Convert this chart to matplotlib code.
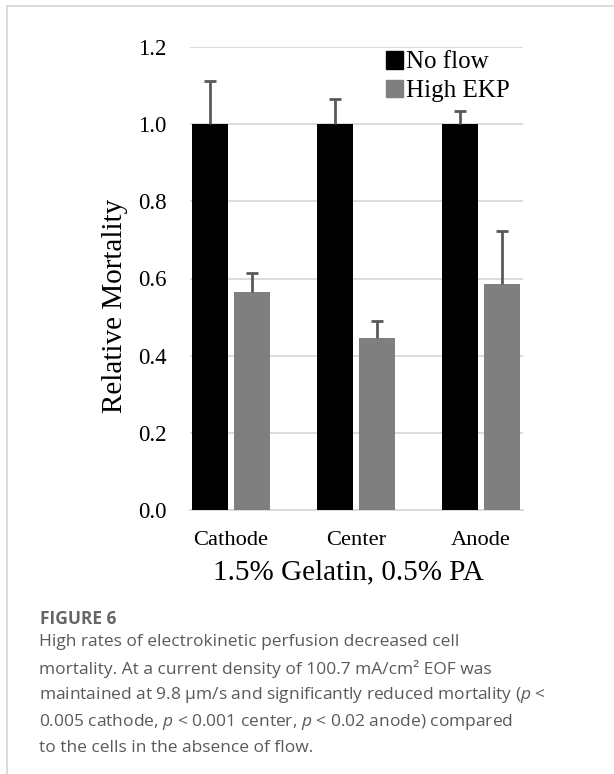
import numpy as np
import matplotlib
matplotlib.use("Agg")
import matplotlib.pyplot as plt
from matplotlib.lines import Line2D
from matplotlib.patches import Patch

categories = ["Cathode", "Center", "Anode"]
series_names = ["No flow", "High EKP"]
no_flow = [1.0, 1.0, 1.0]
no_flow_err = [0.112, 0.065, 0.034]
high_ekp = [0.566, 0.445, 0.585]
high_ekp_err = [0.048, 0.045, 0.137]
y_ticks = [0.0, 0.2, 0.4, 0.6, 0.8, 1.0, 1.2]
x_title = "1.5% Gelatin, 0.5% PA"
y_title = "Relative Mortality"
fig_label = "FIGURE 6"
caption_lines = [
    "High rates of electrokinetic perfusion decreased cell",
    "mortality. At a current density of 100.7 mA/cm\u00b2 EOF was",
    "maintained at 9.8 \u00b5m/s and significantly reduced mortality ($p$ <",
    "0.005 cathode, $p$ < 0.001 center, $p$ < 0.02 anode) compared",
    "to the cells in the absence of flow.",
]

plt.rcParams["mathtext.fontset"] = "custom"
plt.rcParams["mathtext.it"] = "Open Sans:italic"
plt.rcParams["mathtext.rm"] = "Open Sans"

W, H = 614, 774
fig = plt.figure(figsize=(W / 100, H / 100), dpi=100)
fig.patch.set_facecolor("white")

# outer border (top + left, open to right/bottom)
fig.add_artist(Line2D([7 / W, 1.0], [1 - 6 / H, 1 - 6 / H], color="#d4d4d4", lw=1.2))
fig.add_artist(Line2D([7 / W, 7 / W], [1 - 6 / H, 0.0], color="#d4d4d4", lw=1.2))

ax = fig.add_axes([190 / W, 1 - 510 / H, (523 - 190) / W, (510 - 47) / H])
x = np.arange(len(categories))
off = 0.168
bw = 0.288
ax.bar(x - off, no_flow, bw, color="#000000", zorder=3)
ax.bar(x + off, high_ekp, bw, color="#7f7f7f", zorder=3)

ekw = dict(fmt="none", ecolor="#595959", elinewidth=2.0, capsize=4.5, capthick=2.0, zorder=4)
for xs, ys, es in [(x - off, no_flow, no_flow_err), (x + off, high_ekp, high_ekp_err)]:
    eb = ax.errorbar(xs, ys, yerr=[[0] * len(es), es], **ekw)
    eb[1][0].set_visible(False)  # hide lower caps

ax.set_xlim(-0.328, 2.336)
ax.set_ylim(0, 1.2)
ax.set_yticks(y_ticks)
ax.set_yticklabels([f"{v:.1f}" for v in y_ticks], family="Liberation Serif", fontsize=16.5)
ax.set_xticks(x)
ax.set_xticklabels(categories, family="Liberation Serif", fontsize=16.2)
ax.tick_params(axis="y", length=0, pad=17)
ax.tick_params(axis="x", length=0, pad=15)
ax.grid(axis="y", color="#d9d9d9", lw=1.3, zorder=0)
for s in ["top", "right", "left"]:
    ax.spines[s].set_visible(False)
ax.spines["bottom"].set_color("#d9d9d9")
ax.spines["bottom"].set_linewidth(1.3)
ax.set_axisbelow(True)

handles = [Patch(color="#000000"), Patch(color="#7f7f7f")]
fig.legend(handles, series_names, loc="upper left",
           bbox_to_anchor=(386 / W, 1 - 51 / H), frameon=False,
           prop={"family": "Liberation Serif", "size": 18},
           handlelength=0.7, handleheight=0.7, handletextpad=0.12,
           labelspacing=0.25, borderpad=0, borderaxespad=0)

fig.text(115 / W, 1 - 306 / H, y_title, rotation=90, ha="center", va="center",
         family="Liberation Serif", fontsize=21)
fig.text(348 / W, 1 - 572 / H, x_title, ha="center", va="center",
         family="Liberation Serif", fontsize=21)

fig.text(40 / W, 1 - 619.5 / H, fig_label, ha="left", va="center",
         family="Open Sans", fontweight="bold", fontsize=12.5, color="#666666")
for i, line in enumerate(caption_lines):
    fig.text(39 / W, 1 - (642 + 26.5 * i) / H, line, ha="left", va="center",
             family="Open Sans", fontsize=12.5, color="#5a5a5a")

fig.savefig("out.png", dpi=100, facecolor="white")
